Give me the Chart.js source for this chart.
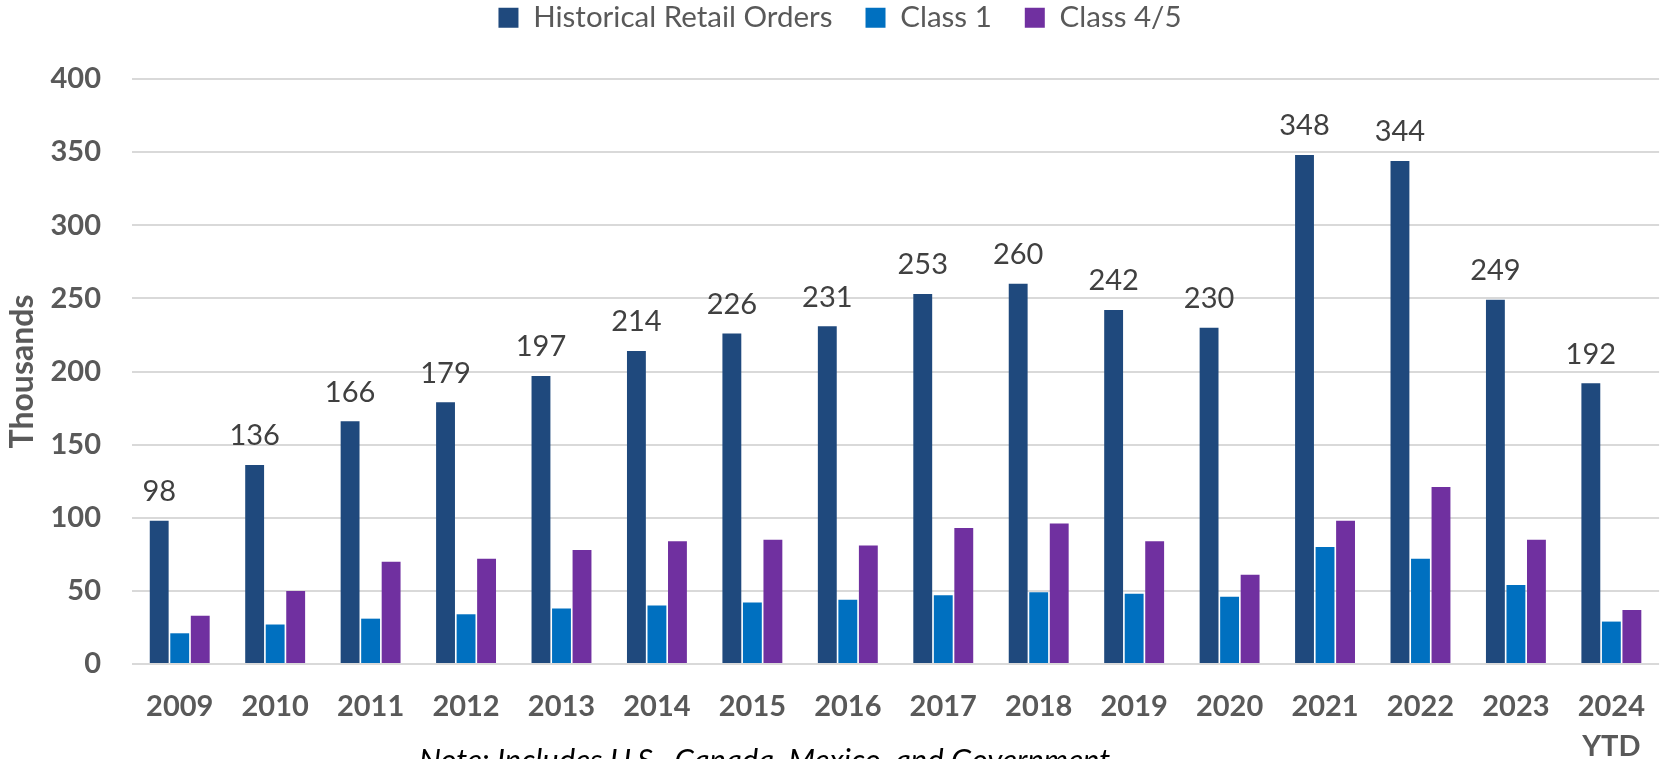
<!DOCTYPE html>
<html>
<head>
<meta charset="utf-8">
<script src="https://cdn.jsdelivr.net/npm/chart.js@4.4.0/dist/chart.umd.min.js"></script>
<style>
  html, body { margin: 0; padding: 0; background: #ffffff; overflow: hidden; width: 1661px; height: 759px; }
  #wrap { position: absolute; left: 0; top: 0; width: 1668px; height: 759px; }
  #note { position: absolute; left: 419px; top: 744px; white-space: nowrap; font-family: Lato, sans-serif; font-style: italic; font-size: 31px; color: #000000; line-height: 1; }
</style>
</head>
<body>
<div id="wrap"><canvas id="c" width="1668" height="759"></canvas></div>
<div id="note">Note: Includes U.S., Canada, Mexico, and Government</div>
<script>
const categories = ['2009','2010','2011','2012','2013','2014','2015','2016','2017','2018','2019','2020','2021','2022','2023',['2024','YTD']];
const retailOrders = [98,136,166,179,197,214,226,231,253,260,242,230,348,344,249,192];
const class1 = [21,27,31,34,38,40,42,44,47,49,48,46,80,72,54,29];
const class45 = [33,50,70,72,78,84,85,81,93,96,84,61,98,121,85,37];
const yMin = 0, yMax = 400, yStep = 50;
const seriesNames = ['Historical Retail Orders','Class 1','Class 4/5'];

const FAMILY = 'Lato';
const legendSize = 29.5;
const tickSize = 29;
const labelSize = 29;
const titleSize = 32;

const barLabels = {
  id: 'barLabels',
  afterDatasetsDraw(chart) {
    const ctx = chart.ctx;
    const meta = chart.getDatasetMeta(0);
    ctx.save();
    ctx.font = 'normal ' + labelSize + 'px ' + FAMILY;
    ctx.fillStyle = '#404040';
    ctx.textAlign = 'center';
    ctx.textBaseline = 'middle';
    meta.data.forEach((bar, i) => {
      ctx.fillText(String(retailOrders[i]), bar.x, bar.y - 29);
    });
    ctx.restore();
  }
};

const legendTweak = {
  id: 'legendTweak',
  beforeInit(chart) {
    const lg = chart.legend;
    const origFit = lg.fit;
    lg.fit = function () {
      origFit.call(this);
      this.height = 79;
    };
    const origDraw = lg.draw;
    lg.draw = function () {
      this.ctx.save();
      this.ctx.translate(6, -30);
      origDraw.call(this);
      this.ctx.restore();
    };
  }
};

new Chart(document.getElementById('c'), {
  type: 'bar',
  data: {
    labels: categories,
    datasets: [
      { label: seriesNames[0], data: retailOrders, backgroundColor: '#1F497D' },
      { label: seriesNames[1], data: class1, backgroundColor: '#0070C0' },
      { label: seriesNames[2], data: class45, backgroundColor: '#7030A0' }
    ]
  },
  options: {
    responsive: false,
    animation: false,
    devicePixelRatio: 1,
    layout: { padding: { left: 0, right: 0, top: 0, bottom: 0 } },
    datasets: { bar: { categoryPercentage: 0.645, barPercentage: 0.92 } },
    plugins: {
      legend: {
        position: 'top',
        labels: {
          boxWidth: 20, boxHeight: 20,
          padding: 33,
          color: '#595959',
          font: { family: FAMILY, size: legendSize, weight: 'normal' }
        }
      },
      tooltip: { enabled: false },
      title: { display: false }
    },
    scales: {
      x: {
        grid: { display: false, drawTicks: false },
        border: { display: false },
        ticks: {
          color: '#595959',
          padding: 23,
          maxRotation: 0,
          autoSkip: false,
          font: { family: FAMILY, size: tickSize, weight: 'bold', lineHeight: 1.38 }
        },
        afterFit(scale) { scale.height = 95; }
      },
      y: {
        min: yMin, max: yMax,
        grid: { color: '#D9D9D9', lineWidth: 2, drawTicks: false },
        border: { display: false },
        ticks: {
          stepSize: yStep,
          color: '#595959',
          padding: 31,
          font: { family: FAMILY, size: tickSize, weight: 'bold' }
        },
        title: {
          display: true,
          text: 'Thousands',
          color: '#595959',
          padding: { top: 3, bottom: 0 },
          font: { family: FAMILY, size: titleSize, weight: 'bold' }
        },
        afterFit(scale) { scale.width = 132; }
      }
    }
  },
  plugins: [barLabels, legendTweak]
});
</script>
</body>
</html>
